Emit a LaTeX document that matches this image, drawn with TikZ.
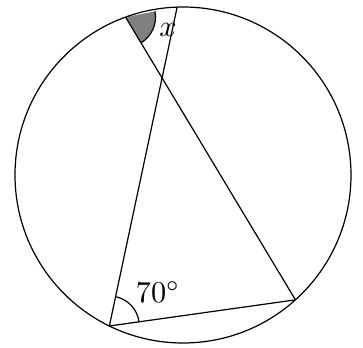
\documentclass[tikz,border=0pt]{standalone}
\usetikzlibrary{angles,quotes}
\begin{document}
\begin{tikzpicture}[
  line width=0.4pt,
  lbl/.style={inner sep=0pt},
]
\def\R{55.44pt}
\useasboundingbox (-60.39pt,-56.76pt) rectangle (59.4pt,57.75pt);
\coordinate (O) at (0,0);
\coordinate (A) at (110:\R);
\coordinate (B) at (92:\R);
\coordinate (C) at (-48:\R);
\coordinate (D) at (244:\R);
\pic[draw, fill=gray, angle radius=9.9pt] {angle = C--A--B};
\pic[draw, angle radius=9.9pt] {angle = C--D--B};
\draw (A) -- (C);
\draw (B) -- (D);
\draw (D) -- (C);
\draw (O) circle (\R);
\node[lbl] (lx) at (-4.95pt,47.85pt) {$x$};
\node[lbl] (l70) at (-8.25pt,-38.6pt) {$70^\circ$};
\end{tikzpicture}
\end{document}
